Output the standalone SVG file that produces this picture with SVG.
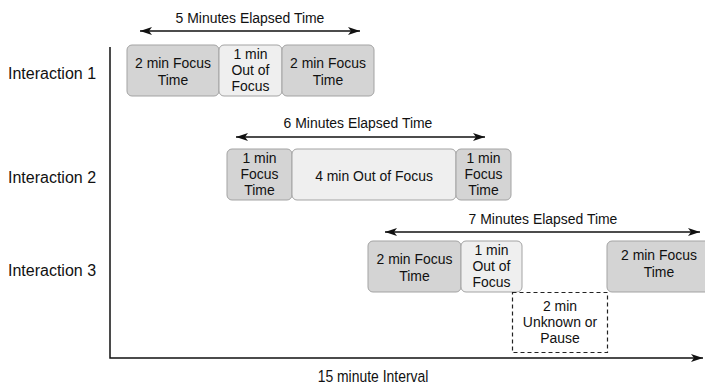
<svg xmlns="http://www.w3.org/2000/svg" width="705" height="385" viewBox="0 0 705 385">
  <defs>
    <marker id="ah" viewBox="0 0 12 8" refX="12" refY="4" markerWidth="12" markerHeight="8" markerUnits="userSpaceOnUse" orient="auto-start-reverse">
      <path d="M0,0 L12,4 L0,8 L3,4 Z" fill="#111"/>
    </marker>
    <style>
      text { font-family: "Liberation Sans", Arial, sans-serif; fill: #111; }
      .lbl { font-size: 16px; }
      .box { font-size: 15px; text-anchor: middle; }
      .cap { font-size: 15.5px; text-anchor: middle; }
      .focus { fill: #d4d4d4; stroke: #a3a3a3; stroke-width: 1; }
      .out { fill: #efefef; stroke: #a3a3a3; stroke-width: 1; }
      .pause { fill: #fff; stroke: #222; stroke-width: 1.2; stroke-dasharray: 4 3; }
      .span { stroke: #111; stroke-width: 1.5; fill: none; }
      .axis { stroke: #111; stroke-width: 1.5; fill: none; }
    </style>
  </defs>

  <!-- row labels -->
  <text class="lbl" x="8" y="79">Interaction 1</text>
  <text class="lbl" x="8" y="183">Interaction 2</text>
  <text class="lbl" x="8" y="276">Interaction 3</text>

  <!-- axes and elapsed-time spans -->
  <g id="connectors">
    <path class="axis" d="M110,47 V358 H703" marker-end="url(#ah)"/>
    <line class="span" x1="140" y1="31" x2="360" y2="31" marker-start="url(#ah)" marker-end="url(#ah)"/>
    <line class="span" x1="236" y1="137" x2="485" y2="137" marker-start="url(#ah)" marker-end="url(#ah)"/>
    <line class="span" x1="385" y1="232" x2="700" y2="232" marker-start="url(#ah)" marker-end="url(#ah)"/>
  </g>

  <text class="cap" transform="translate(250,23) scale(0.9,1)">5 Minutes Elapsed Time</text>
  <text class="cap" transform="translate(358,128) scale(0.9,1)">6 Minutes Elapsed Time</text>
  <text class="cap" transform="translate(543,224) scale(0.9,1)">7 Minutes Elapsed Time</text>

  <!-- interaction 1 -->
  <g id="i1-focus-a">
    <rect class="focus" x="127" y="45" width="92" height="51" rx="5"/>
    <text class="box" transform="translate(173,68) scale(0.93,1)">2 min Focus</text>
    <text class="box" transform="translate(173,85) scale(0.93,1)">Time</text>
  </g>
  <g id="i1-out">
    <rect class="out" x="219" y="45" width="63" height="51" rx="5"/>
    <text class="box" transform="translate(250.5,59) scale(0.93,1)">1 min</text>
    <text class="box" transform="translate(250.5,75) scale(0.93,1)">Out of</text>
    <text class="box" transform="translate(250.5,91) scale(0.93,1)">Focus</text>
  </g>
  <g id="i1-focus-b">
    <rect class="focus" x="282" y="45" width="92" height="51" rx="5"/>
    <text class="box" transform="translate(328,68) scale(0.93,1)">2 min Focus</text>
    <text class="box" transform="translate(328,85) scale(0.93,1)">Time</text>
  </g>

  <!-- interaction 2 -->
  <g id="i2-focus-a">
    <rect class="focus" x="227" y="149" width="65" height="51" rx="5"/>
    <text class="box" transform="translate(259.5,163) scale(0.93,1)">1 min</text>
    <text class="box" transform="translate(259.5,179) scale(0.93,1)">Focus</text>
    <text class="box" transform="translate(259.5,195) scale(0.93,1)">Time</text>
  </g>
  <g id="i2-out">
    <rect class="out" x="292" y="149" width="164" height="51" rx="5"/>
    <text class="box" transform="translate(374,181) scale(0.93,1)">4 min Out of Focus</text>
  </g>
  <g id="i2-focus-b">
    <rect class="focus" x="456" y="149" width="55" height="51" rx="5"/>
    <text class="box" transform="translate(483.5,163) scale(0.93,1)">1 min</text>
    <text class="box" transform="translate(483.5,179) scale(0.93,1)">Focus</text>
    <text class="box" transform="translate(483.5,195) scale(0.93,1)">Time</text>
  </g>

  <!-- interaction 3 -->
  <g id="i3-focus-a">
    <rect class="focus" x="368" y="241" width="93" height="51" rx="5"/>
    <text class="box" transform="translate(414.5,264) scale(0.93,1)">2 min Focus</text>
    <text class="box" transform="translate(414.5,281) scale(0.93,1)">Time</text>
  </g>
  <g id="i3-out">
    <rect class="out" x="461" y="241" width="61" height="51" rx="5"/>
    <text class="box" transform="translate(491.5,255) scale(0.93,1)">1 min</text>
    <text class="box" transform="translate(491.5,271) scale(0.93,1)">Out of</text>
    <text class="box" transform="translate(491.5,287) scale(0.93,1)">Focus</text>
  </g>
  <g id="i3-pause">
    <rect class="pause" x="512.5" y="292.5" width="95" height="60"/>
    <text class="box" transform="translate(560,311) scale(0.93,1)">2 min</text>
    <text class="box" transform="translate(560,327) scale(0.93,1)">Unknown or</text>
    <text class="box" transform="translate(560,343) scale(0.93,1)">Pause</text>
  </g>
  <g id="i3-focus-b">
    <rect class="focus" x="607" y="241" width="104" height="51" rx="5"/>
    <text class="box" transform="translate(659,260) scale(0.93,1)">2 min Focus</text>
    <text class="box" transform="translate(659,277) scale(0.93,1)">Time</text>
  </g>

  <text class="cap" transform="translate(373,382) scale(0.82,1)" style="font-size:17px">15 minute Interval</text>
</svg>
